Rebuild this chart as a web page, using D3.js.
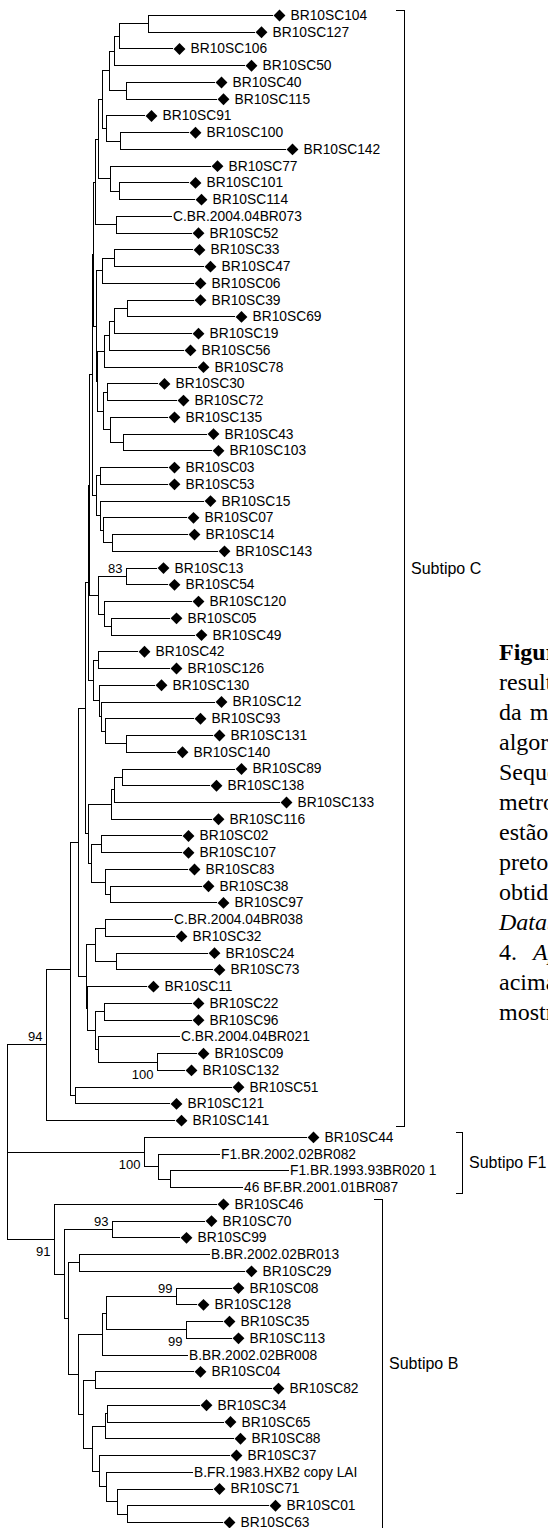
<!DOCTYPE html>
<html>
<head>
<meta charset="utf-8">
<script src="https://cdn.jsdelivr.net/npm/d3@7"></script>
<style>
  body { margin: 0; background: #fff; overflow: hidden; }
  text { fill: #000; }
</style>
</head>
<body>
<div id="chart"></div>
<script>
// Tree data, Newick with branch lengths and bootstrap values on internal nodes.
var subtypeC = '(((((((((((((((BR10SC104:0.125,BR10SC127:0.107):0.029,BR10SC106:0.054):0.005,BR10SC50:0.131):0.005,' +
  '(BR10SC40:0.089,BR10SC115:0.091):0.017):0.007,(BR10SC91:0.039,(BR10SC100:0.069,BR10SC142:0.166):0.014):0.004):0.004,' +
  '(BR10SC77:0.101,(BR10SC101:0.070,BR10SC114:0.076):0.009):0.012):0.003,' +
  '(C.BR.2004.04BR073:0.056,BR10SC52:0.076):0.021):0.0017,' +
  '(((BR10SC33:0.079,BR10SC47:0.090):0.012,BR10SC06:0.092):0.0063,' +
  '(((((BR10SC39:0.067,BR10SC69:0.108):0.013,BR10SC19:0.078):0.005,BR10SC56:0.075):0.005,BR10SC78:0.093):0.0073,' +
  '((BR10SC30:0.051,BR10SC72:0.070):0.004,(BR10SC135:0.058,(BR10SC43:0.084,BR10SC103:0.089):0.013):0.007):0.0063):0.001):0.0024):0.0018,' +
  '((BR10SC03:0.068,BR10SC53:0.068):0.004,(BR10SC15:0.104,(BR10SC07:0.084,(BR10SC14:0.076,BR10SC143:0.106):0.009):0.003):0.004):0.0045):0.003,' +
  '((BR10SC13:0.031,BR10SC54:0.042)83:0.028,(BR10SC120:0.088,(BR10SC05:0.059,BR10SC49:0.084):0.007):0.006):0.0095):0.001,' +
  '((BR10SC42:0.040,BR10SC126:0.072):0.005,(BR10SC130:0.056,(BR10SC12:0.114,(BR10SC93:0.089,(BR10SC131:0.087,BR10SC140:0.050):0.021):0.004):0.002):0.006):0.0055):0.0025,' +
  '((((BR10SC89:0.113,BR10SC138:0.088):0.008,BR10SC133:0.166):0.003,BR10SC116:0.101):0.023,' +
  '((BR10SC02:0.081,BR10SC107:0.081):0.010,(BR10SC83:0.083,(BR10SC38:0.092,BR10SC97:0.107):0.005):0.014):0.003):0.003):0.007,' +
  '(((C.BR.2004.04BR038:0.068,BR10SC32:0.070):0.010,(BR10SC24:0.092,BR10SC73:0.097):0.021):0.009,' +
  '(BR10SC11:0.060,((BR10SC22:0.088,BR10SC96:0.088):0.009,(C.BR.2004.04BR021:0.082,(BR10SC09:0.040,BR10SC132:0.028)100:0.059):0.003):0.008):0.001):0.008):0.008,' +
  '(BR10SC51:0.157,BR10SC121:0.095):0.005):0.024,BR10SC141:0.129)94:0.039';

var subtypeF1 = '(BR10SC44:0.163,(F1.BR.2002.02BR082:0.062,(F1.BR.1993.93BR020 1:0.119,46 BF.BR.2001.01BR087:0.073):0.012):0.014)100:0.137';

var subtypeB = '(BR10SC46:0.163,((BR10SC70:0.093,BR10SC99:0.068)93:0.048,' +
  '((B.BR.2002.02BR013:0.131,BR10SC29:0.166):0.011,' +
  '((((BR10SC08:0.056,BR10SC128:0.021)99:0.070,(BR10SC35:0.037,BR10SC113:0.046)99:0.080):0.004,B.BR.2002.02BR008:0.086):0.024,' +
  '((BR10SC04:0.099,BR10SC82:0.177):0.012,' +
  '(((BR10SC34:0.093,BR10SC65:0.117):0.002,BR10SC88:0.129):0.013,' +
  '(BR10SC37:0.131,(B.FR.1983.HXB2 copy LAI:0.087,(BR10SC71:0.096,(BR10SC01:0.142,BR10SC63:0.096):0.010):0.011):0.007):0.007):0.009):0.005):0.010):0.004):0.010)91:0.047';

// bootstrap labels drawn under the branch (named by first leaf of the clade)
var supportBelow = ['BR10SC09', 'BR10SC44', 'BR10SC46', 'BR10SC35'];

var subtypes = [
  { name: 'Subtipo C', first: 'BR10SC104', last: 'BR10SC141' },
  { name: 'Subtipo F1', first: 'BR10SC44', last: '46 BF.BR.2001.01BR087' },
  { name: 'Subtipo B', first: 'BR10SC46', last: 'BR10SC63' }
];

var caption = [
  [['Figura 9.', 'b'], [' Árvore filogenética', '']],
  [['resultante da análise filogenética', '']],
  [['da', ''], ['matriz de distâncias pelo', '']],
  [['algoritmo Neighbor-Joining.', '']],
  [['Sequências obtidas com o parâ-', '']],
  [['metro Kimura 2-parâmetros. As', '']],
  [['estão identificadas com losango', '']],
  [['preto e as referências foram', '']],
  [['obtidas no Los Alamos HIV Sequence', '']],
  [['Database', 'i'], [' e analisadas no MEGA', '']],
  [['4.', ''], ['Apenas valores de bootstrap', 'i']],
  [['acima de 70% estão', '']],
  [['mostrados.', '']]
];

function parseNewick(s) {
  var parts = s.split(/([(),:;])/);
  var stack = [], tree = {}, sub;
  for (var i = 0; i < parts.length; i++) {
    var t = parts[i];
    switch (t) {
      case '(':
        sub = {};
        tree.children = [sub];
        stack.push(tree);
        tree = sub;
        break;
      case ',':
        sub = {};
        stack[stack.length - 1].children.push(sub);
        tree = sub;
        break;
      case ')':
        tree = stack.pop();
        break;
      case ':':
      case ';':
        break;
      default:
        var prev = parts[i - 1];
        if (prev === ':') tree.length = parseFloat(t);
        else if (t.trim()) tree.name = t.trim();
    }
  }
  return tree;
}

var width = 548;
var height = 1528;
var treeFont = 13.8;

var root = d3.hierarchy(parseNewick('(' + [subtypeC, subtypeF1, subtypeB].join(',') + ');'));
root.eachBefore(function (d) {
  d.len = (d.parent ? d.parent.len : 0) + (d.data.length || 0);
});

var leaves = root.leaves();

var x = d3.scaleLinear()
  .domain([0, 0.28])
  .range([7, 287]);

var y = d3.scaleLinear()
  .domain([0, leaves.length - 1])
  .range([15, 1522]);

leaves.forEach(function (d, i) { d.y = y(i); });
root.eachAfter(function (d) {
  if (d.children) d.y = (d.children[0].y + d.children[d.children.length - 1].y) / 2;
  d.x = x(d.len);
});

var svg = d3.select('#chart').append('svg')
  .attr('width', width)
  .attr('height', height)
  .style('display', 'block');

var g = svg.append('g')
  .attr('stroke', '#000')
  .attr('stroke-width', 1)
  .attr('shape-rendering', 'crispEdges');

// horizontal branches
g.selectAll('.hbranch')
  .data(root.descendants().filter(function (d) { return d.parent; }))
  .enter().append('line')
  .attr('class', 'hbranch')
  .attr('x1', function (d) { return d.parent.x; })
  .attr('x2', function (d) { return d.x; })
  .attr('y1', function (d) { return Math.round(d.y) + 0.5; })
  .attr('y2', function (d) { return Math.round(d.y) + 0.5; });

// vertical connectors
g.selectAll('.vbranch')
  .data(root.descendants().filter(function (d) { return d.children; }))
  .enter().append('line')
  .attr('class', 'vbranch')
  .attr('x1', function (d) { return Math.round(d.x) + 0.5; })
  .attr('x2', function (d) { return Math.round(d.x) + 0.5; })
  .attr('y1', function (d) { return Math.round(d.children[0].y) + 0.5; })
  .attr('y2', function (d) { return Math.round(d.children[d.children.length - 1].y) + 1; });

function isSample(d) { return /^BR10SC/.test(d.data.name); }

svg.selectAll('.marker')
  .data(leaves.filter(isSample))
  .enter().append('path')
  .attr('class', 'marker')
  .attr('d', d3.symbol(d3.symbolSquare, 70))
  .attr('transform', function (d) {
    return 'translate(' + (d.x + 6.5) + ',' + (d.y + 0.5) + ') rotate(45)';
  })
  .attr('fill', '#000');

svg.selectAll('.leaf')
  .data(leaves)
  .enter().append('text')
  .attr('class', 'leaf')
  .attr('x', function (d) { return d.x + (isSample(d) ? 17.5 : 1); })
  .attr('y', function (d) { return d.y; })
  .attr('dy', '0.36em')
  .style('font-family', '"Liberation Sans", Arial, sans-serif')
  .style('font-size', treeFont + 'px')
  .text(function (d) { return d.data.name; });

// bootstrap values
svg.selectAll('.support')
  .data(root.descendants().filter(function (d) { return d.children && d.data.name; }))
  .enter().append('text')
  .attr('class', 'support')
  .attr('x', function (d) { return d.x - 3.5; })
  .attr('y', function (d) {
    var below = supportBelow.indexOf(d.leaves()[0].data.name) >= 0;
    return below ? d.y + 17 : d.y - 3;
  })
  .attr('text-anchor', 'end')
  .style('font-family', '"Liberation Sans", Arial, sans-serif')
  .style('font-size', '13px')
  .text(function (d) { return d.data.name; });

// subtype brackets
var bracketX = { 'Subtipo C': 404, 'Subtipo F1': 462, 'Subtipo B': 382 };
var tick = { 'Subtipo C': 9, 'Subtipo F1': 7, 'Subtipo B': 9 };

function leafY(name) {
  return leaves.find(function (d) { return d.data.name === name; }).y;
}

var brackets = svg.selectAll('.bracket')
  .data(subtypes)
  .enter().append('g')
  .attr('class', 'bracket');

brackets.append('path')
  .attr('fill', 'none')
  .attr('stroke', '#000')
  .attr('stroke-width', 1)
  .attr('shape-rendering', 'crispEdges')
  .attr('d', function (d) {
    var bx = bracketX[d.name] + 0.5;
    var y0 = Math.round(leafY(d.first) - 5) + 0.5;
    var y1 = Math.round(leafY(d.last) + 6) + 0.5;
    return 'M' + (bx - tick[d.name]) + ',' + y0 + 'H' + bx + 'V' + y1 + 'H' + (bx - tick[d.name]);
  });

brackets.append('text')
  .attr('x', function (d) { return bracketX[d.name] + 7; })
  .attr('y', function (d) { return (leafY(d.first) - 5 + leafY(d.last) + 6) / 2; })
  .attr('dy', '0.36em')
  .style('font-family', '"Liberation Sans", Arial, sans-serif')
  .style('font-size', '16px')
  .text(function (d) { return d.name; });

// figure caption (justified in the source), cut by the page edge
var justifyGap = { 2: 8, 10: 16 };

var cap = svg.append('text')
  .style('font-family', '"Liberation Serif", "Times New Roman", serif')
  .style('font-size', '24px');

caption.forEach(function (line, i) {
  line.forEach(function (part, j) {
    var t = cap.append('tspan').text(part[0]);
    if (j === 0) t.attr('x', 499).attr('y', 660 + i * 30);
    if (j === 1 && justifyGap[i]) t.attr('dx', justifyGap[i]);
    if (part[1] === 'b') t.style('font-weight', 'bold');
    if (part[1] === 'i') t.style('font-style', 'italic');
  });
});
</script>
</body>
</html>
